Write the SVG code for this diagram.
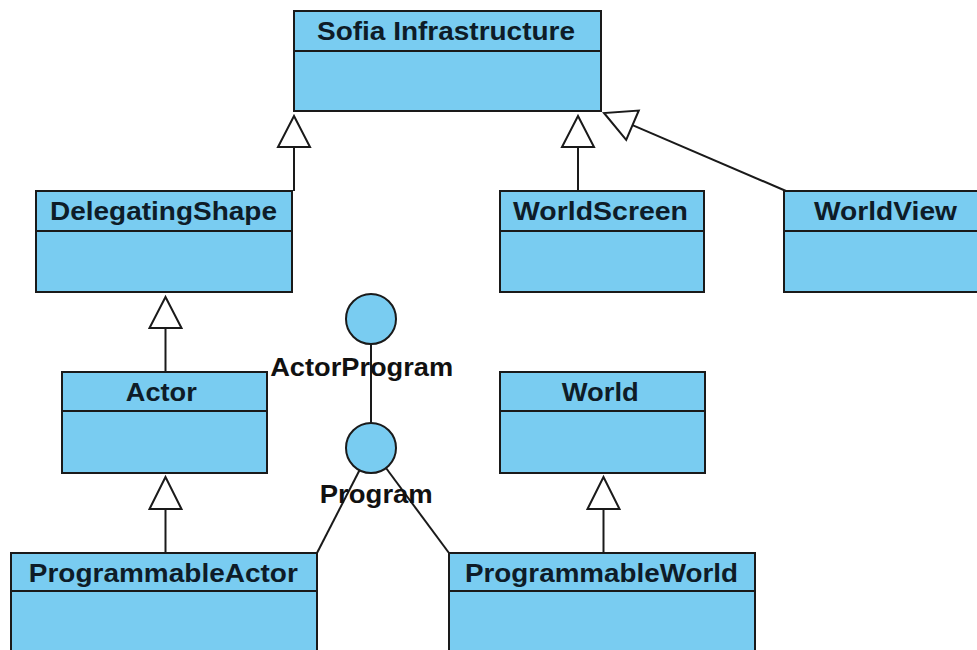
<svg xmlns="http://www.w3.org/2000/svg" width="977" height="650" viewBox="0 0 977 650">
<style>
.box{fill:#79ccf1;stroke:#1a1a1a;stroke-width:2}
.sep{stroke:#1a1a1a;stroke-width:2}
.name{font-family:"Liberation Sans",Arial,sans-serif;font-weight:bold;font-size:26px;fill:#0e1c28;text-anchor:middle}
.lbl{font-family:"Liberation Sans",Arial,sans-serif;font-weight:bold;font-size:26px;fill:#111;text-anchor:middle}
.ln{stroke:#1a1a1a;stroke-width:2;fill:none}
.tri{fill:#fff;stroke:#1a1a1a;stroke-width:2;stroke-linejoin:miter}
.iface{fill:#79ccf1;stroke:#1a1a1a;stroke-width:2}
</style>
<rect width="977" height="650" fill="#fff"/>
<g id="connectors">
<line class="ln" x1="294" y1="147" x2="294" y2="191"/>
<polygon class="tri" points="294,116 278,147 310,147"/>
<line class="ln" x1="578" y1="147" x2="578" y2="191"/>
<polygon class="tri" points="578,116 562,147 594,147"/>
<line class="ln" x1="632.5" y1="125.2" x2="786" y2="191"/>
<polygon class="tri" points="604,113 626.2,139.9 638.8,110.5"/>
<line class="ln" x1="165.5" y1="328" x2="165.5" y2="372"/>
<polygon class="tri" points="165.5,297 149.5,328 181.5,328"/>
<line class="ln" x1="165.5" y1="509" x2="165.5" y2="553"/>
<polygon class="tri" points="165.5,477 149.5,509 181.5,509"/>
<line class="ln" x1="603.5" y1="509" x2="603.5" y2="553"/>
<polygon class="tri" points="603.5,477 587.5,509 619.5,509"/>
<line class="ln" x1="371" y1="344" x2="371" y2="423"/>
<line class="ln" x1="359.5" y1="470.2" x2="317" y2="553"/>
<line class="ln" x1="386" y1="468" x2="449" y2="553"/>
</g>
<g id="sofia">
<rect class="box" x="294" y="11" width="307" height="100"/>
<line class="sep" x1="294" y1="51" x2="601" y2="51"/>
<text class="name" x="446" y="40" textLength="258" lengthAdjust="spacingAndGlyphs">Sofia Infrastructure</text>
</g>
<g id="delegatingShape">
<rect class="box" x="36" y="191" width="256" height="101"/>
<line class="sep" x1="36" y1="231" x2="292" y2="231"/>
<text class="name" x="163.5" y="220" textLength="227" lengthAdjust="spacingAndGlyphs">DelegatingShape</text>
</g>
<g id="worldScreen">
<rect class="box" x="500" y="191" width="204" height="101"/>
<line class="sep" x1="500" y1="231" x2="704" y2="231"/>
<text class="name" x="600.5" y="220" textLength="175" lengthAdjust="spacingAndGlyphs">WorldScreen</text>
</g>
<g id="worldView">
<rect class="box" x="784" y="191" width="203" height="101"/>
<line class="sep" x1="784" y1="231" x2="987" y2="231"/>
<text class="name" x="885.5" y="220" textLength="143" lengthAdjust="spacingAndGlyphs">WorldView</text>
</g>
<g id="actor">
<rect class="box" x="62" y="372" width="205" height="101"/>
<line class="sep" x1="62" y1="411" x2="267" y2="411"/>
<text class="name" x="161.3" y="401" textLength="71" lengthAdjust="spacingAndGlyphs">Actor</text>
</g>
<g id="world">
<rect class="box" x="500" y="372" width="205" height="101"/>
<line class="sep" x1="500" y1="411" x2="705" y2="411"/>
<text class="name" x="600.3" y="401" textLength="77" lengthAdjust="spacingAndGlyphs">World</text>
</g>
<g id="programmableActor">
<rect class="box" x="11" y="553" width="306" height="110"/>
<line class="sep" x1="11" y1="591" x2="317" y2="591"/>
<text class="name" x="163.3" y="582" textLength="269" lengthAdjust="spacingAndGlyphs">ProgrammableActor</text>
</g>
<g id="programmableWorld">
<rect class="box" x="449" y="553" width="306" height="110"/>
<line class="sep" x1="449" y1="591" x2="755" y2="591"/>
<text class="name" x="601.5" y="582" textLength="273" lengthAdjust="spacingAndGlyphs">ProgrammableWorld</text>
</g>
<g id="actorProgram">
<circle class="iface" cx="371" cy="319" r="25"/>
<text class="lbl" x="361.7" y="376" textLength="183" lengthAdjust="spacingAndGlyphs">ActorProgram</text>
</g>
<g id="program">
<circle class="iface" cx="371" cy="448" r="25"/>
<text class="lbl" x="376.3" y="503" textLength="113" lengthAdjust="spacingAndGlyphs">Program</text>
</g>
</svg>
